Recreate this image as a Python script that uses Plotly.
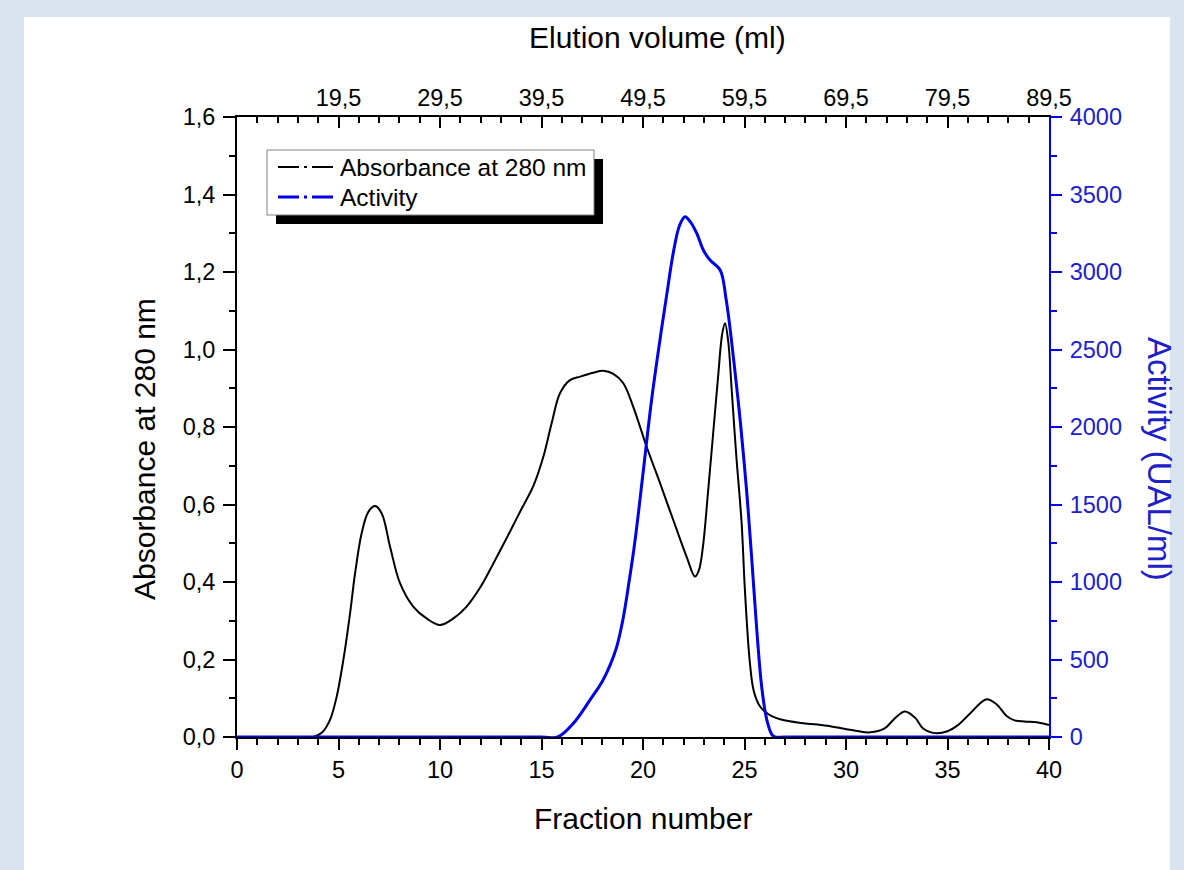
import plotly.graph_objects as go

# ---------------- data ----------------
abs_fraction = [0, 3.0, 3.76, 4.2, 4.58, 4.91, 5.24, 5.57, 5.81, 6.14, 6.47, 6.8, 7.13, 7.54,
                8.03, 8.69, 9.34, 10.0, 10.66, 11.3, 11.97, 12.7, 13.4, 14.0, 14.6, 15.09, 15.5,
                15.91, 16.4, 16.9, 17.55, 18.05, 18.54, 19.03, 19.52, 20.18, 20.84, 21.49,
                22.15, 22.56, 22.75, 22.95, 23.2, 23.45, 23.7, 23.9, 24.04, 24.2, 24.37, 24.6,
                24.86, 25.02, 25.25, 25.45, 25.75, 26.2, 26.8, 27.8, 28.6, 29.4, 30.4, 31.2,
                31.9, 32.4, 32.9, 33.4, 33.8, 34.4, 35.0, 35.5, 36.1, 36.9, 37.4, 37.9, 38.3,
                38.8, 39.4, 40]
absorbance = [0, 0, 0.0, 0.012, 0.044, 0.104, 0.199, 0.319, 0.42, 0.526, 0.581, 0.596, 0.577,
              0.491, 0.397, 0.336, 0.306, 0.289, 0.306, 0.336, 0.385, 0.455, 0.525, 0.587,
              0.648, 0.723, 0.81, 0.887, 0.921, 0.93, 0.94, 0.945, 0.937, 0.913, 0.852, 0.749,
              0.655, 0.56, 0.465, 0.414, 0.43, 0.49, 0.63, 0.78, 0.93, 1.04, 1.068, 1.02,
              0.895, 0.723, 0.551, 0.379, 0.2, 0.12, 0.08, 0.058, 0.045, 0.036, 0.032, 0.026,
              0.017, 0.012, 0.022, 0.048, 0.066, 0.05, 0.022, 0.01, 0.015, 0.03, 0.06, 0.097,
              0.085, 0.055, 0.043, 0.04, 0.038, 0.031]

act_fraction = [0, 15.0, 15.8, 16.57, 17.39, 18.0, 18.4, 18.7, 19.0, 19.3, 19.6, 20.0, 20.4,
                20.8, 21.2, 21.5, 21.8, 22.07, 22.35, 22.65, 22.97, 23.3, 23.8, 24.1, 24.45,
                24.8, 25.1, 25.35, 25.6, 25.85, 26.1, 26.35, 26.5, 27.0, 40]
activity = [0, 0, 0, 88, 239, 360, 470, 580, 750, 990, 1260, 1700, 2150, 2530, 2880, 3130,
            3300, 3357, 3320, 3249, 3142, 3077, 3013, 2819, 2453, 2026, 1594, 1163, 700, 320,
            110, 15, 0, 0, 0]

series_names = ["Absorbance at 280 nm", "Activity"]

x_tickvals = [0, 5, 10, 15, 20, 25, 30, 35, 40]
x_ticktext = ["0", "5", "10", "15", "20", "25", "30", "35", "40"]
top_tickvals = [5, 10, 15, 20, 25, 30, 35, 40]
top_ticktext = ["19,5", "29,5", "39,5", "49,5", "59,5", "69,5", "79,5", "89,5"]
y_tickvals = [0, 0.2, 0.4, 0.6, 0.8, 1.0, 1.2, 1.4, 1.6]
y_ticktext = ["0,0", "0,2", "0,4", "0,6", "0,8", "1,0", "1,2", "1,4", "1,6"]
y2_tickvals = [0, 500, 1000, 1500, 2000, 2500, 3000, 3500, 4000]
y2_ticktext = ["0", "500", "1000", "1500", "2000", "2500", "3000", "3500", "4000"]

# ---------------- styles ----------------
FONT = "Liberation Sans, Arial, sans-serif"
BLUE = "#0000e6"
BLUE_TXT = "#2020c8"
OUTER = "#d9e4f0"
DASH = "21px,5px,3px,5px"
TICK_SIZE = 23.5
TITLE_SIZE = 30

fig = go.Figure()
fig.add_trace(go.Scatter(x=abs_fraction, y=absorbance, mode="lines", name=series_names[0],
                         line=dict(color="black", width=2, shape="spline", smoothing=1.0),
                         showlegend=False, hoverinfo="skip"))
fig.add_trace(go.Scatter(x=act_fraction, y=activity, mode="lines", yaxis="y2",
                         name=series_names[1],
                         line=dict(color=BLUE, width=3, shape="spline", smoothing=1.0),
                         showlegend=False, hoverinfo="skip"))
# dummy trace to activate top axis
fig.add_trace(go.Scatter(x=[None], y=[None], xaxis="x2", showlegend=False, hoverinfo="skip"))

L, R, T, B = 237, 1049, 117, 737
W, H = 1184, 870
PW, PH = R - L, B - T


def px(xp):
    return (xp - L) / PW


def py(yp):
    return (B - yp) / PH


tickfont = dict(family=FONT, size=TICK_SIZE, color="black")
fig.update_layout(
    width=W, height=H,
    margin=dict(l=L, r=W - R, t=T, b=H - B, pad=0),
    paper_bgcolor=OUTER,
    plot_bgcolor="white",
    font=dict(family=FONT, size=TICK_SIZE, color="black"),
    showlegend=False,
    xaxis=dict(range=[0, 40], tickmode="array", tickvals=x_tickvals, ticktext=x_ticktext,
               ticks="outside", ticklen=11, tickwidth=2, tickcolor="black",
               minor=dict(tickmode="linear", tick0=0, dtick=1, ticks="outside", ticklen=6,
                          tickwidth=2, tickcolor="black"),
               showline=True, linecolor="black", linewidth=2, showgrid=False, zeroline=False,
               tickfont=tickfont),
    xaxis2=dict(range=[0, 40], overlaying="x", side="top", anchor="y", tickmode="array",
                tickvals=top_tickvals, ticktext=top_ticktext,
                ticks="inside", ticklen=11, tickwidth=2, tickcolor="black",
                minor=dict(tickmode="linear", tick0=0, dtick=1, ticks="inside", ticklen=6,
                           tickwidth=2, tickcolor="black"),
                showline=True, linecolor="black", linewidth=2, showgrid=False, zeroline=False,
                tickfont=tickfont),
    yaxis=dict(range=[0, 1.6], tickmode="array", tickvals=y_tickvals, ticktext=y_ticktext,
               ticks="outside", ticklen=12, tickwidth=2, tickcolor="black",
               minor=dict(tickmode="linear", tick0=0, dtick=0.1, ticks="outside", ticklen=6,
                          tickwidth=2, tickcolor="black"),
               showline=True, linecolor="black", linewidth=2, showgrid=False, zeroline=False,
               tickfont=tickfont, ticklabelstandoff=3),
    yaxis2=dict(range=[0, 4000], overlaying="y", side="right", anchor="x", tickmode="array",
                tickvals=y2_tickvals, ticktext=y2_ticktext,
                ticks="outside", ticklen=11, tickwidth=2, tickcolor=BLUE,
                minor=dict(tickmode="linear", tick0=0, dtick=250, ticks="outside", ticklen=6,
                           tickwidth=2, tickcolor=BLUE),
                showline=True, linecolor=BLUE, linewidth=2, showgrid=False, zeroline=False,
                tickfont=dict(family=FONT, size=TICK_SIZE, color=BLUE_TXT),
                ticklabelstandoff=3),
)

# legend geometry (pixels)
LEG_X0, LEG_X1, LEG_Y0, LEG_Y1 = 267, 594, 150, 215
SHADOW = 9
ROW_Y = [167, 197]
SYM_X0, SYM_X1, TXT_X = 278, 333, 338

shapes = [
    # white inner panel
    dict(type="rect", xref="paper", yref="paper", x0=px(24), x1=px(1170), y0=py(H + 5), y1=py(17),
         fillcolor="white", line=dict(width=0), layer="below"),
    # legend shadow
    dict(type="rect", xref="paper", yref="paper", x0=px(LEG_X0 + SHADOW), x1=px(LEG_X1 + SHADOW),
         y0=py(LEG_Y1 + SHADOW), y1=py(LEG_Y0 + SHADOW),
         fillcolor="black", line=dict(width=0), layer="above"),
    # legend box
    dict(type="rect", xref="paper", yref="paper", x0=px(LEG_X0), x1=px(LEG_X1),
         y0=py(LEG_Y1), y1=py(LEG_Y0),
         fillcolor="white", line=dict(color="#808080", width=1), layer="above"),
]
leg_colors = ["black", BLUE]
leg_widths = [2, 3]
for name, yy, col, lw in zip(series_names, ROW_Y, leg_colors, leg_widths):
    shapes.append(dict(type="line", xref="paper", yref="paper", x0=px(SYM_X0), x1=px(SYM_X1),
                       y0=py(yy), y1=py(yy), line=dict(color=col, width=lw, dash=DASH),
                       layer="above"))
    fig.add_annotation(text=name, xref="paper", yref="paper", x=px(TXT_X), y=py(yy),
                       xanchor="left", yanchor="middle", showarrow=False,
                       font=dict(family=FONT, size=24.5, color="black"))
fig.update_layout(shapes=shapes)

title_font = dict(family=FONT, size=TITLE_SIZE, color="black")
fig.add_annotation(text="Elution volume (ml)", xref="paper", yref="paper", x=px(657), y=py(38),
                   xanchor="center", yanchor="middle", showarrow=False, font=title_font)
fig.add_annotation(text="Fraction number", xref="paper", yref="paper", x=px(643), y=py(818),
                   xanchor="center", yanchor="middle", showarrow=False, font=title_font)
fig.add_annotation(text="Absorbance at 280 nm", xref="paper", yref="paper", x=px(145), y=py(449),
                   xanchor="center", yanchor="middle", showarrow=False, textangle=-90,
                   font=title_font)
fig.add_annotation(text="Activity (UAL/ml)", xref="paper", yref="paper", x=px(1160), y=py(459),
                   xanchor="center", yanchor="middle", showarrow=False, textangle=90,
                   font=dict(family=FONT, size=33, color=BLUE_TXT))

fig.write_html(
    "out.html",
    config={"displayModeBar": False, "staticPlot": True},
    post_script=("document.body.style.margin='0';document.body.style.overflow='hidden';"
                 "document.body.style.background='" + OUTER + "';"),
)
